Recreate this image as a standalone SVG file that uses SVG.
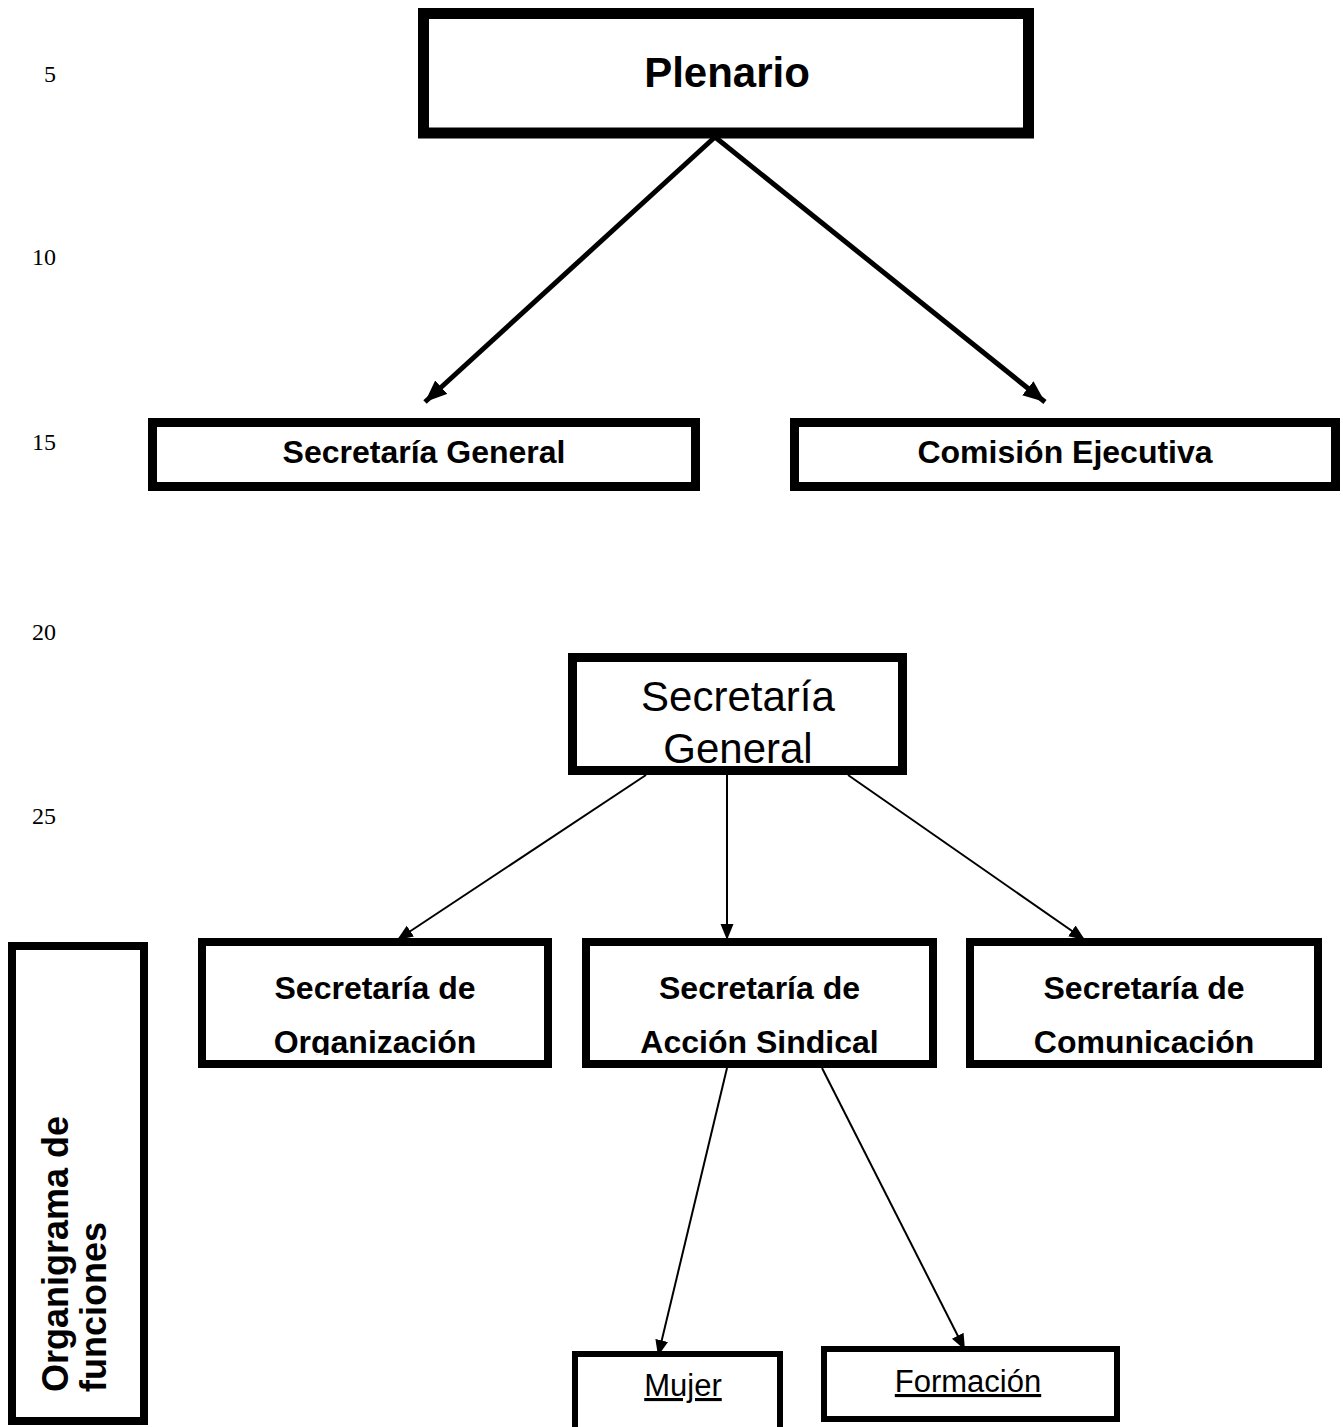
<svg xmlns="http://www.w3.org/2000/svg" width="1343" height="1427" viewBox="0 0 1343 1427">
<style>
.box{fill:#fff;stroke:#000}
.b{font-family:"Liberation Sans",Arial,sans-serif;font-weight:bold;fill:#000}
.r{font-family:"Liberation Sans",Arial,sans-serif;fill:#000}
.num{font-family:"Liberation Serif","Times New Roman",serif;font-size:24px;fill:#000}
.thick{stroke:#000;stroke-width:5;fill:none}
.thin{stroke:#000;stroke-width:2;fill:none}
</style>
<defs>
<marker id="ah" markerUnits="userSpaceOnUse" markerWidth="24" markerHeight="20" refX="22" refY="9" orient="auto"><path d="M0,0 L22,9 L0,18 Z" fill="#000"/></marker>
<marker id="as" markerUnits="userSpaceOnUse" markerWidth="18" markerHeight="14" refX="16" refY="6.5" orient="auto"><path d="M0,0 L16,6.5 L0,13 Z" fill="#000"/></marker>
<clipPath id="c1"><rect x="206" y="946" width="338" height="109"/></clipPath>
<clipPath id="c2"><rect x="590" y="946" width="339" height="109"/></clipPath>
<clipPath id="c3"><rect x="974" y="946" width="340" height="109"/></clipPath>
<clipPath id="c4"><rect x="577" y="662" width="321" height="104"/></clipPath>
</defs>
<g id="linenumbers">
<text class="num" x="56" y="82" text-anchor="end">5</text>
<text class="num" x="56" y="265" text-anchor="end">10</text>
<text class="num" x="56" y="450" text-anchor="end">15</text>
<text class="num" x="56" y="640" text-anchor="end">20</text>
<text class="num" x="56" y="824" text-anchor="end">25</text>
</g>
<g id="connectors">
<line class="thick" x1="715" y1="137" x2="425" y2="402" marker-end="url(#ah)"/>
<line class="thick" x1="715" y1="137" x2="1045" y2="402" marker-end="url(#ah)"/>
<line class="thin" x1="646" y1="775" x2="397" y2="940" marker-end="url(#as)"/>
<line class="thin" x1="727" y1="775" x2="727" y2="940" marker-end="url(#as)"/>
<line class="thin" x1="848" y1="775" x2="1085" y2="940" marker-end="url(#as)"/>
<line class="thin" x1="727" y1="1068" x2="658" y2="1356" marker-end="url(#as)"/>
<line class="thin" x1="822" y1="1068" x2="965" y2="1350" marker-end="url(#as)"/>
</g>
<g id="plenario">
<rect class="box" x="423.5" y="13.5" width="605" height="119.5" stroke-width="11"/>
<text class="b" x="727" y="87" font-size="42" text-anchor="middle">Plenario</text>
</g>
<g id="secretaria-general-top">
<rect class="box" x="152.5" y="422.5" width="543" height="64" stroke-width="9"/>
<text class="b" x="424" y="463" font-size="32" text-anchor="middle">Secretaría General</text>
</g>
<g id="comision-ejecutiva">
<rect class="box" x="794.5" y="422.5" width="541" height="64" stroke-width="9"/>
<text class="b" x="1065" y="463" font-size="32" text-anchor="middle">Comisión Ejecutiva</text>
</g>
<g id="secretaria-general">
<rect class="box" x="572.5" y="657.5" width="330" height="113" stroke-width="9"/>
<g clip-path="url(#c4)">
<text class="r" x="738" y="711" font-size="42" text-anchor="middle">Secretaría</text>
<text class="r" x="738" y="763" font-size="42" text-anchor="middle">General</text>
</g>
</g>
<g id="organizacion">
<rect class="box" x="202" y="942" width="346" height="122" stroke-width="8"/>
<g clip-path="url(#c1)">
<text class="b" x="375" y="999" font-size="32" text-anchor="middle">Secretaría de</text>
<text class="b" x="375" y="1053" font-size="32" text-anchor="middle">Organización</text>
</g>
</g>
<g id="accion-sindical">
<rect class="box" x="586" y="942" width="347" height="122" stroke-width="8"/>
<g clip-path="url(#c2)">
<text class="b" x="759.5" y="999" font-size="32" text-anchor="middle">Secretaría de</text>
<text class="b" x="759.5" y="1053" font-size="32" text-anchor="middle">Acción Sindical</text>
</g>
</g>
<g id="comunicacion">
<rect class="box" x="970" y="942" width="348" height="122" stroke-width="8"/>
<g clip-path="url(#c3)">
<text class="b" x="1144" y="999" font-size="32" text-anchor="middle">Secretaría de</text>
<text class="b" x="1144" y="1053" font-size="32" text-anchor="middle">Comunicación</text>
</g>
</g>
<g id="mujer">
<rect class="box" x="575" y="1354" width="205" height="100" stroke-width="6"/>
<text class="r" x="683" y="1396" font-size="31" text-anchor="middle" text-decoration="underline">Mujer</text>
</g>
<g id="formacion">
<rect class="box" x="824" y="1349" width="293" height="70" stroke-width="6"/>
<text class="r" x="968" y="1392" font-size="31" text-anchor="middle" text-decoration="underline">Formación</text>
</g>
<g id="organigrama">
<rect class="box" x="12" y="946" width="132" height="475" stroke-width="8"/>
<text class="b" transform="translate(68,1392) rotate(-90)" font-size="36">Organigrama de</text>
<text class="b" transform="translate(106,1392) rotate(-90)" font-size="36">funciones</text>
</g>
</svg>
